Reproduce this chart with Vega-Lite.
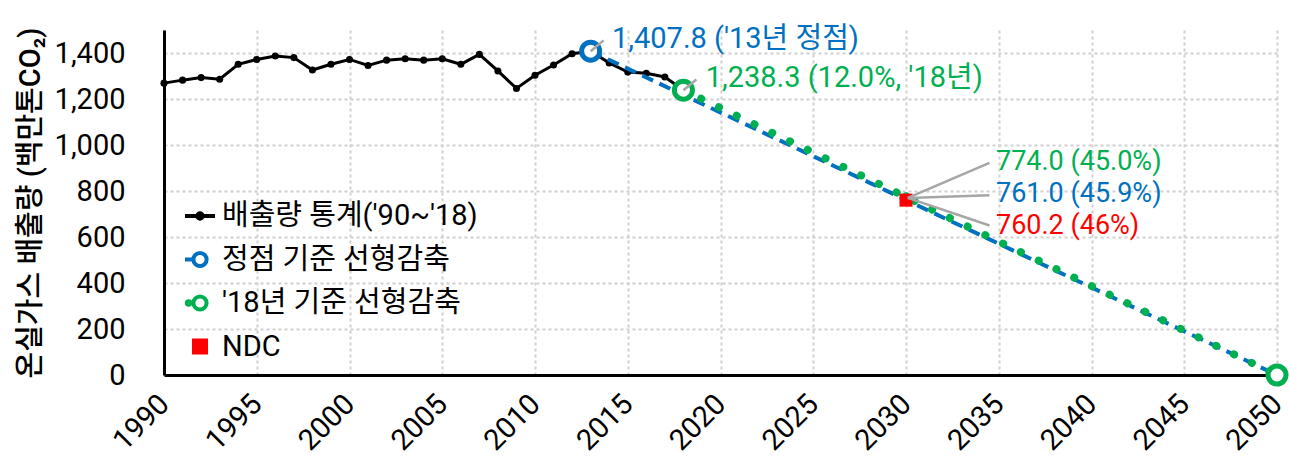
{
  "$schema": "https://vega.github.io/schema/vega-lite/v6.json",
  "width": 1113,
  "height": 345,
  "autosize": {"type": "none"},
  "padding": {"left": 164, "top": 30, "right": 13, "bottom": 86},
  "background": "white",
  "config": {
    "font": "Roboto, Noto Sans CJK KR",
    "view": {"stroke": null},
    "axis": {"labelFont": "Roboto, Noto Sans CJK KR", "titleFont": "Roboto, Noto Sans CJK KR"},
    "legend": {"labelFont": "Roboto, Noto Sans CJK KR"},
    "text": {"font": "Roboto, Noto Sans CJK KR"}
  },
  "datasets": {
    "hist": [
      {"year": 1990, "value": 1269}, {"year": 1991, "value": 1282}, {"year": 1992, "value": 1293},
      {"year": 1993, "value": 1286}, {"year": 1994, "value": 1351}, {"year": 1995, "value": 1372},
      {"year": 1996, "value": 1387}, {"year": 1997, "value": 1380}, {"year": 1998, "value": 1326},
      {"year": 1999, "value": 1351}, {"year": 2000, "value": 1372}, {"year": 2001, "value": 1346},
      {"year": 2002, "value": 1369}, {"year": 2003, "value": 1375}, {"year": 2004, "value": 1369},
      {"year": 2005, "value": 1375}, {"year": 2006, "value": 1351}, {"year": 2007, "value": 1394},
      {"year": 2008, "value": 1322}, {"year": 2009, "value": 1246}, {"year": 2010, "value": 1303},
      {"year": 2011, "value": 1348}, {"year": 2012, "value": 1397}, {"year": 2013, "value": 1407.8},
      {"year": 2014, "value": 1357}, {"year": 2015, "value": 1317}, {"year": 2016, "value": 1312},
      {"year": 2017, "value": 1296}, {"year": 2018, "value": 1238.3}
    ],
    "blue": [
      {"year": 2013, "value": 1407.8}, {"year": 2030, "value": 761.0}, {"year": 2050, "value": 0}
    ],
    "green": [
      {"year": 2018, "value": 1238.3}, {"year": 2030, "value": 774.0}, {"year": 2050, "value": 0}
    ],
    "blueMarkers": [{"year": 2013, "value": 1407.8}],
    "greenMarkers": [{"year": 2018, "value": 1238.3}, {"year": 2050, "value": 0}],
    "midGreen": [{"year": 2030, "value": 774.0}],
    "midBlue": [{"year": 2030, "value": 761.0}],
    "ndc": [{"year": 2030, "value": 760.2}],
    "legendOnly": [],
    "leaders": [
      {"x": 2013, "y": 1407.8, "x2": 2013.7, "y2": 1455},
      {"x": 2018, "y": 1238.3, "x2": 2018.7, "y2": 1285},
      {"x": 2030.1, "y": 770, "x2": 2034.5, "y2": 922},
      {"x": 2030.1, "y": 770, "x2": 2034.5, "y2": 782},
      {"x": 2030.1, "y": 770, "x2": 2034.5, "y2": 650}
    ],
    "labelsBlueTop": [
      {"year": 2014.15, "value": 1463, "text": "1,407.8 ('13년 정점)"}
    ],
    "labelsGreenTop": [
      {"year": 2019.2, "value": 1292, "text": "1,238.3 (12.0%, '18년)"}
    ],
    "labelsBlue": [
      {"year": 2034.85, "value": 787, "text": "761.0 (45.9%)"}
    ],
    "labelsGreen": [
      {"year": 2034.85, "value": 925, "text": "774.0 (45.0%)"}
    ],
    "labelsRed": [
      {"year": 2034.85, "value": 649, "text": "760.2 (46%)"}
    ]
  },
  "layer": [
    {
      "data": {"name": "hist"},
      "mark": {"type": "line", "color": "black", "strokeWidth": 3},
      "encoding": {
        "x": {
          "field": "year", "type": "quantitative",
          "scale": {"domain": [1990, 2050], "nice": false, "zero": false},
          "axis": {
            "values": [1990, 1995, 2000, 2005, 2010, 2015, 2020, 2025, 2030, 2035, 2040, 2045, 2050],
            "format": "d", "labelAngle": -45, "labelAlign": "right", "labelBaseline": "middle",
            "labelFontSize": 29, "labelColor": "black", "labelPadding": 24, "labelFlush": false,
            "labelOverlap": false, "ticks": false, "domainColor": "black", "domainWidth": 3,
            "grid": true, "gridColor": "#D0D0D0", "gridDash": [3, 3], "gridWidth": 2, "title": null
          }
        },
        "y": {
          "field": "value", "type": "quantitative",
          "scale": {"domain": [0, 1500], "nice": false},
          "axis": {
            "values": [0, 200, 400, 600, 800, 1000, 1200, 1400],
            "format": ",d", "labelFontSize": 29, "labelColor": "black", "labelPadding": 39,
            "ticks": false, "domainColor": "black", "domainWidth": 3,
            "grid": true, "gridColor": "#D0D0D0", "gridDash": [3, 3], "gridWidth": 2,
            "title": "온실가스 배출량 (백만톤CO₂)", "titleFontSize": 29, "titleFontWeight": 500,
            "titleColor": "black", "titlePadding": 9
          }
        }
      }
    },
    {
      "data": {"name": "hist"},
      "mark": {"type": "point", "filled": true, "color": "black", "size": 50, "opacity": 1},
      "encoding": {
        "x": {"field": "year", "type": "quantitative"},
        "y": {"field": "value", "type": "quantitative"}
      }
    },
    {
      "data": {"name": "blue"},
      "mark": {"type": "line", "color": "#0070C0", "strokeWidth": 4, "strokeDash": [12, 7]},
      "encoding": {
        "x": {"field": "year", "type": "quantitative"},
        "y": {"field": "value", "type": "quantitative"}
      }
    },
    {
      "data": {"name": "green"},
      "mark": {"type": "line", "color": "#00B050", "strokeWidth": 8, "strokeDash": [0.1, 19.6], "strokeCap": "round"},
      "encoding": {
        "x": {"field": "year", "type": "quantitative"},
        "y": {"field": "value", "type": "quantitative"}
      }
    },
    {
      "data": {"name": "midGreen"},
      "mark": {"type": "point", "filled": true, "size": 90, "opacity": 1, "color": "#00B050"},
      "encoding": {
        "x": {"field": "year", "type": "quantitative"},
        "y": {"field": "value", "type": "quantitative"}
      }
    },
    {
      "data": {"name": "midBlue"},
      "mark": {"type": "point", "filled": true, "size": 90, "opacity": 1, "color": "#0070C0"},
      "encoding": {
        "x": {"field": "year", "type": "quantitative"},
        "y": {"field": "value", "type": "quantitative"}
      }
    },
    {
      "data": {"name": "blueMarkers"},
      "mark": {"type": "point", "shape": "circle", "fill": "white", "stroke": "#0070C0", "size": 324, "strokeWidth": 5, "opacity": 1, "fillOpacity": 1},
      "encoding": {
        "x": {"field": "year", "type": "quantitative"},
        "y": {"field": "value", "type": "quantitative"}
      }
    },
    {
      "data": {"name": "greenMarkers"},
      "mark": {"type": "point", "shape": "circle", "fill": "white", "stroke": "#00B050", "size": 324, "strokeWidth": 5, "opacity": 1, "fillOpacity": 1},
      "encoding": {
        "x": {"field": "year", "type": "quantitative"},
        "y": {"field": "value", "type": "quantitative"}
      }
    },
    {
      "data": {"name": "ndc"},
      "mark": {"type": "square", "size": 170, "opacity": 1, "color": "#FF0000"},
      "encoding": {
        "x": {"field": "year", "type": "quantitative"},
        "y": {"field": "value", "type": "quantitative"}
      }
    },
    {
      "data": {"name": "legendOnly"},
      "mark": {"type": "point", "strokeWidth": 4, "opacity": 1, "fillOpacity": 1},
      "encoding": {
        "x": {"field": "year", "type": "quantitative"},
        "y": {"field": "value", "type": "quantitative"},
        "stroke": {
          "field": "series", "type": "nominal",
          "scale": {
            "domain": ["배출량 통계('90~'18)", "정점 기준 선형감축", "'18년 기준 선형감축", "NDC"],
            "range": ["black", "#0070C0", "#00B050", "#FF0000"]
          },
          "legend": {
            "title": null, "orient": "none", "legendX": 19, "legendY": 169, "direction": "vertical",
            "padding": 0, "labelFontSize": 29, "labelColor": "black", "symbolSize": 900,
            "symbolStrokeWidth": 4, "labelOffset": 5, "rowPadding": 11.5, "labelLimit": 500
          }
        },
        "fill": {
          "field": "series", "type": "nominal",
          "scale": {
            "domain": ["배출량 통계('90~'18)", "정점 기준 선형감축", "'18년 기준 선형감축", "NDC"],
            "range": ["black", "white", "white", "#FF0000"]
          },
          "legend": {
            "title": null, "orient": "none", "legendX": 19, "legendY": 169, "direction": "vertical",
            "padding": 0, "labelFontSize": 29, "labelColor": "black", "symbolSize": 900,
            "symbolStrokeWidth": 4, "labelOffset": 5, "rowPadding": 11.5, "labelLimit": 500
          }
        },
        "shape": {
          "field": "series", "type": "nominal",
          "scale": {
            "domain": ["배출량 통계('90~'18)", "정점 기준 선형감축", "'18년 기준 선형감축", "NDC"],
            "range": [
              "M-1,0L1,0M-0.18,0A0.18,0.18 0 1,1 0.18,0A0.18,0.18 0 1,1 -0.18,0",
              "M-1,0L-0.44,0M-0.44,0A0.44,0.44 0 1,1 0.44,0A0.44,0.44 0 1,1 -0.44,0",
              "M-0.88,0A0.12,0.12 0 1,1 -0.64,0A0.12,0.12 0 1,1 -0.88,0M-0.44,0A0.44,0.44 0 1,1 0.44,0A0.44,0.44 0 1,1 -0.44,0",
              "M-0.4,-0.4L0.4,-0.4L0.4,0.4L-0.4,0.4Z"
            ]
          },
          "legend": {
            "title": null, "orient": "none", "legendX": 19, "legendY": 169, "direction": "vertical",
            "padding": 0, "labelFontSize": 29, "labelColor": "black", "symbolSize": 900,
            "symbolStrokeWidth": 4, "labelOffset": 5, "rowPadding": 11.5, "labelLimit": 500
          }
        }
      }
    },
    {
      "data": {"name": "leaders"},
      "mark": {"type": "rule", "color": "#A6A6A6", "strokeWidth": 2.5},
      "encoding": {
        "x": {"field": "x", "type": "quantitative"},
        "y": {"field": "y", "type": "quantitative"},
        "x2": {"field": "x2"},
        "y2": {"field": "y2"}
      }
    },
    {
      "data": {"name": "labelsBlueTop"},
      "mark": {"type": "text", "align": "left", "baseline": "middle", "fontSize": 29, "color": "#0070C0"},
      "encoding": {
        "x": {"field": "year", "type": "quantitative"},
        "y": {"field": "value", "type": "quantitative"},
        "text": {"field": "text"}
      }
    },
    {
      "data": {"name": "labelsGreenTop"},
      "mark": {"type": "text", "align": "left", "baseline": "middle", "fontSize": 29, "color": "#00B050"},
      "encoding": {
        "x": {"field": "year", "type": "quantitative"},
        "y": {"field": "value", "type": "quantitative"},
        "text": {"field": "text"}
      }
    },
    {
      "data": {"name": "labelsBlue"},
      "mark": {"type": "text", "align": "left", "baseline": "middle", "fontSize": 27, "color": "#0070C0"},
      "encoding": {
        "x": {"field": "year", "type": "quantitative"},
        "y": {"field": "value", "type": "quantitative"},
        "text": {"field": "text"}
      }
    },
    {
      "data": {"name": "labelsGreen"},
      "mark": {"type": "text", "align": "left", "baseline": "middle", "fontSize": 27, "color": "#00B050"},
      "encoding": {
        "x": {"field": "year", "type": "quantitative"},
        "y": {"field": "value", "type": "quantitative"},
        "text": {"field": "text"}
      }
    },
    {
      "data": {"name": "labelsRed"},
      "mark": {"type": "text", "align": "left", "baseline": "middle", "fontSize": 27, "color": "#FF0000"},
      "encoding": {
        "x": {"field": "year", "type": "quantitative"},
        "y": {"field": "value", "type": "quantitative"},
        "text": {"field": "text"}
      }
    }
  ]
}
